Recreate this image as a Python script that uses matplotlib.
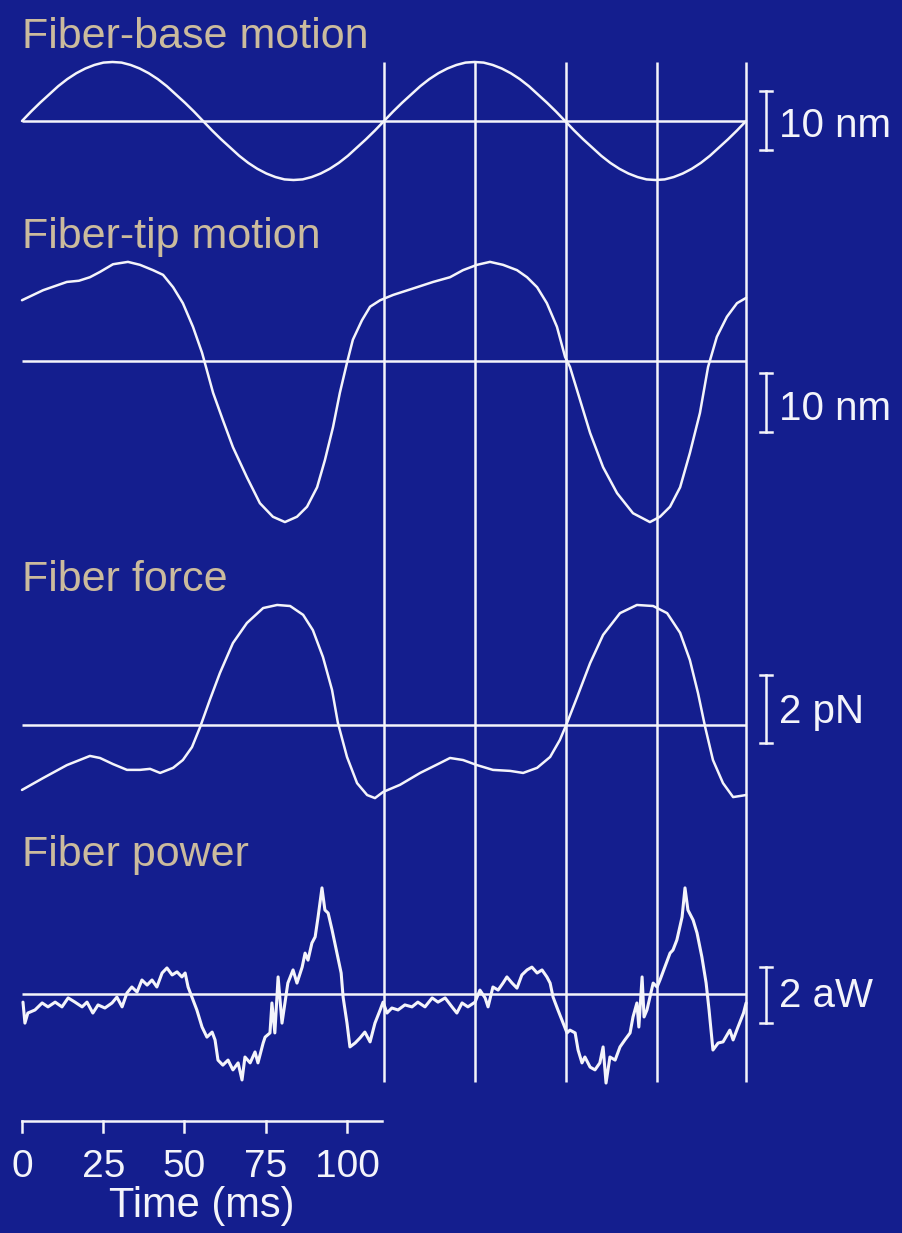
import numpy as np
import matplotlib
matplotlib.use("Agg")
import matplotlib.pyplot as plt
from matplotlib.transforms import Affine2D

# ---------------- data ----------------
# Fiber-base motion (nm), sampled evenly over 0 .. 222.8 ms
base_nm = [0, 1.6, 3.1, 4.5, 5.9, 7.1, 8.1, 8.9, 9.5, 9.9, 10.0, 9.9, 9.5, 8.9, 8.1, 7.1, 5.9, 4.5, 3.1, 1.6,
           0, -1.6, -3.1, -4.5, -5.9, -7.1, -8.1, -8.9, -9.5, -9.9, -10.0, -9.9, -9.5, -8.9, -8.1, -7.1, -5.9, -4.5, -3.1, -1.6,
           0, 1.6, 3.1, 4.5, 5.9, 7.1, 8.1, 8.9, 9.5, 9.9, 10.0, 9.9, 9.5, 8.9, 8.1, 7.1, 5.9, 4.5, 3.1, 1.6,
           0, -1.6, -3.1, -4.5, -5.9, -7.1, -8.1, -8.9, -9.5, -9.9, -10.0, -9.9, -9.5, -8.9, -8.1, -7.1, -5.9, -4.5, -3.1, -1.6,
           0]
base_t = np.linspace(0, 222.8, len(base_nm))

# Fiber-tip motion (nm)
tip_t = [0, 6.5, 13.8, 17.5, 20.9, 24.0, 28.0, 32.6, 36.3, 40.3, 43.4, 46.5, 49.5, 52.6, 55.4, 58.8, 61.8,
         64.9, 69.2, 73.2, 77.2, 80.9, 84.6, 87.7, 90.8, 93.2, 95.7, 97.8, 100.0, 101.8, 104.6, 107.1,
         110.2, 114.2, 121.5, 126.5, 131.7, 135.7, 140.0, 144.0, 148.0, 152.3, 155.4, 158.5, 161.5,
         164.6, 167.1, 168.6, 171.7, 174.8, 178.8, 183.1, 188.0, 193.2, 196.3, 199.4, 202.5, 205.5,
         208.6, 211.1, 213.8, 216.9, 220.0, 222.8]
tip_nm = [10.3, 12.0, 13.4, 13.6, 14.2, 15.1, 16.4, 16.8, 16.3, 15.4, 14.6, 12.5, 9.8, 5.8, 1.4, -5.4, -10.0,
          -14.6, -19.7, -24.1, -26.4, -27.3, -26.4, -24.7, -21.4, -16.8, -11.2, -5.4, -0.3, 3.6, 6.9, 9.2,
          10.3, 11.2, 12.5, 13.4, 14.2, 15.4, 16.3, 16.8, 16.3, 15.4, 14.2, 12.5, 9.8,
          5.8, 0.7, -1.0, -6.6, -12.2, -18.0, -22.4, -25.8, -27.3, -26.4, -24.7, -21.4, -15.6,
          -8.8, -1.0, 4.1, 7.5, 9.8, 10.7]

# Fiber force (pN)
force_t = [0, 6.5, 13.8, 20.9, 24.0, 28.0, 32.3, 36.3, 39.4, 42.5, 46.5, 49.5, 52.3, 54.8, 57.8, 60.9,
           64.9, 69.2, 74.2, 78.5, 82.5, 86.5, 89.5, 92.6, 95.4, 97.2, 100.0, 103.1, 106.2, 108.6,
           111.1, 116.3, 122.5, 128.6, 131.7, 135.7, 140.0, 144.9, 150.2, 154.2, 158.5, 162.5, 165.5,
           167.7, 170.8, 174.8, 178.8, 184.0, 189.2, 194.2, 198.5, 202.5, 205.5, 208.0, 210.2, 212.6,
           215.7, 218.8, 222.8]
force_pN = [-1.91, -1.56, -1.18, -0.91, -0.97, -1.15, -1.32, -1.32, -1.29, -1.41, -1.26, -1.03, -0.65, -0.06, 0.74, 1.53,
            2.41, 3.0, 3.44, 3.53, 3.5, 3.24, 2.79, 2.0, 1.03, 0.06, -0.94, -1.71, -2.06, -2.15,
            -1.97, -1.76, -1.41, -1.12, -0.97, -1.03, -1.18, -1.32, -1.35, -1.41, -1.26, -0.94, -0.44,
            0.06, 0.82, 1.82, 2.65, 3.29, 3.53, 3.5, 3.29, 2.71, 1.91, 0.94, -0.06, -1.03,
            -1.71, -2.12, -2.06]

# Fiber power (aW)
power_t = [0.3, 0.9, 1.8, 4.0, 6.2, 8.0, 10.2, 12.3, 14.2, 16.3, 18.5, 20.0, 21.8, 23.4, 25.5, 27.7, 29.2,
           30.8, 32.3, 33.8, 35.4, 36.9, 38.5, 40.0, 41.5, 43.1, 44.6, 46.2, 47.7, 49.2, 50.2, 51.1,
           52.3, 53.8, 55.4, 56.9, 58.5, 59.4, 60.3, 61.8, 63.4, 64.9, 66.5, 67.7, 68.6, 70.2, 71.7,
           72.6, 74.2, 74.8, 76.3, 76.9, 77.8, 78.8, 80.0, 80.9, 81.8, 83.4, 84.6, 86.2, 87.1, 88.0,
           89.2, 90.2, 91.1, 92.3, 93.2, 94.2, 95.4, 96.9, 98.2, 98.8, 100.0, 100.9, 102.5, 104.0,
           105.5, 107.1, 108.6, 110.2, 111.1, 112.3, 113.8, 115.7, 117.8, 120.0, 121.8, 124.0, 126.2,
           128.0, 130.2, 132.3, 133.8, 135.4, 137.2, 139.4, 140.9, 142.5, 143.4, 144.9, 146.5, 148.0,
           149.2, 150.8, 152.3, 153.8, 155.4, 156.9, 158.5, 160.0, 161.5, 162.5, 163.4, 164.9, 166.5,
           167.7, 168.6, 170.2, 171.1, 172.3, 173.2, 174.8, 176.3, 177.8, 178.8, 179.7, 180.9, 182.5,
           184.0, 185.5, 187.1, 188.0, 189.2, 189.8, 190.8, 191.4, 192.3, 193.2, 194.2, 195.4, 196.3,
           197.8, 199.4, 200.3, 201.5, 203.1, 204.0, 204.9, 206.5, 207.7, 209.2, 210.5, 211.4, 212.6,
           214.2, 215.7, 217.8, 218.8, 220.3, 222.0, 222.8]
power_aW = [-0.29, -1.04, -0.68, -0.57, -0.32, -0.46, -0.29, -0.46, -0.14, -0.29, -0.46, -0.29, -0.68, -0.39, -0.5, -0.32, -0.11,
            -0.46, 0.04, 0.25, 0.07, 0.5, 0.32, 0.5, 0.25, 0.75, 0.93, 0.68, 0.79, 0.61, 0.75, 0.25,
            -0.11, -0.57, -1.18, -1.54, -1.36, -1.64, -2.36, -2.54, -2.36, -2.71, -2.46, -3.07, -2.25, -2.46, -2.07,
            -2.46, -1.75, -1.54, -1.39, -0.32, -1.39, 0.61, -1.04, -0.32, 0.39, 0.86, 0.39, 0.96, 1.46, 1.21,
            1.82, 2.04, 2.75, 3.79, 3.0, 2.89, 2.29, 1.46, 0.75, -0.11, -1.04, -1.89, -1.75, -1.57,
            -1.36, -1.71, -1.04, -0.57, -0.29, -0.68, -0.5, -0.57, -0.39, -0.46, -0.29, -0.46, -0.14,
            -0.29, -0.14, -0.46, -0.68, -0.32, -0.46, -0.29, 0.14, -0.14, -0.46, 0.25, 0.14, 0.39,
            0.61, 0.39, 0.21, 0.68, 0.86, 0.96, 0.75, 0.86, 0.61, 0.39, -0.11, -0.57, -1.04,
            -1.39, -1.29, -1.39, -2.0, -2.46, -2.25, -2.61, -2.71, -2.46, -1.89, -3.18, -2.25, -2.36,
            -1.89, -1.64, -1.39, -0.82, -0.32, -1.18, 0.61, -0.82, -0.57, -0.11, 0.39, 0.25, 0.5,
            0.96, 1.46, 1.57, 1.93, 2.75, 3.79, 3.0, 2.64, 2.18, 1.32, 0.39, -0.57, -2.0,
            -1.75, -1.71, -1.29, -1.64, -1.18, -0.68, -0.32]

# vertical reference lines (ms) and time axis
vline_t = [111.4, 139.4, 167.4, 195.4, 222.8]
tick_vals = [0, 25, 50, 75, 100]
tick_labels = ["0", "25", "50", "75", "100"]
axis_end = 110.8

panel_titles = ["Fiber-base motion", "Fiber-tip motion", "Fiber force", "Fiber power"]
scale_labels = ["10 nm", "10 nm", "2 pN", "2 aW"]
scale_sizes = [10, 10, 2, 2]

# ---------------- layout ----------------
BG = "#141e8e"
FG = "#f4f4fa"
TAN = "#cbbb9d"
W, H = 903, 1233
PX_PER_MS = 3.25
X0 = 22

def X(px):
    return (px - X0) / PX_PER_MS

fig = plt.figure(figsize=(W / 100, H / 100), dpi=100, facecolor=BG)
ax = fig.add_axes([0, 0, 1, 1])
ax.set_facecolor(BG)
ax.set_xlim(X(0), X(W))
ax.set_ylim(H, 0)
ax.axis("off")

# baseline pixel, px per unit, title baseline, scale bar top/bottom, label baseline
panels = [
    dict(t=base_t, v=base_nm, base=121, k=5.9, title_y=48, bar=(91, 150), lab_y=137),
    dict(t=tip_t, v=tip_nm, base=361, k=5.9, title_y=248, bar=(373, 432), lab_y=420),
    dict(t=force_t, v=force_pN, base=725, k=34.0, title_y=591, bar=(675, 743), lab_y=723),
    dict(t=power_t, v=power_aW, base=994, k=28.0, title_y=866, bar=(967, 1023), lab_y=1007),
]

lw = 1.8
for i, p in enumerate(panels):
    tr = Affine2D().scale(1, -p["k"]).translate(0, p["base"]) + ax.transData
    ax.plot(p["t"], p["v"], color=FG, lw=2.2 if i == 3 else lw, transform=tr,
            solid_joinstyle="round", solid_capstyle="round", zorder=3)
    ax.hlines(p["base"], 0, vline_t[-1], color=FG, lw=lw, zorder=2)
    ax.text(X(22), p["title_y"], panel_titles[i], color=TAN, fontsize=31,
            family="Liberation Sans", ha="left", va="baseline")
    # scale bar
    top, bot = p["bar"]
    xb = X(766)
    half = 6 / PX_PER_MS
    ax.plot([xb, xb], [top, bot], color=FG, lw=lw)
    ax.plot([xb - half, xb + half], [top, top], color=FG, lw=lw)
    ax.plot([xb - half, xb + half], [bot, bot], color=FG, lw=lw)
    ax.text(X(779), p["lab_y"], scale_labels[i], color=FG, fontsize=29,
            family="Liberation Sans", ha="left", va="baseline")

ax.vlines(vline_t, 62, 1082, color=FG, lw=lw, zorder=2)

# time axis
ya, yt = 1121, 1132
ax.plot([0, axis_end], [ya, ya], color=FG, lw=lw)
for tv, tl in zip(tick_vals, tick_labels):
    ax.plot([tv, tv], [ya, yt], color=FG, lw=lw)
    ax.text(tv, 1177, tl, color=FG, fontsize=28, family="Liberation Sans",
            ha="center", va="baseline")
ax.text(55.2, 1217, "Time (ms)", color=FG, fontsize=30, family="Liberation Sans",
        ha="center", va="baseline")

fig.savefig("out.png", dpi=100, facecolor=BG)
